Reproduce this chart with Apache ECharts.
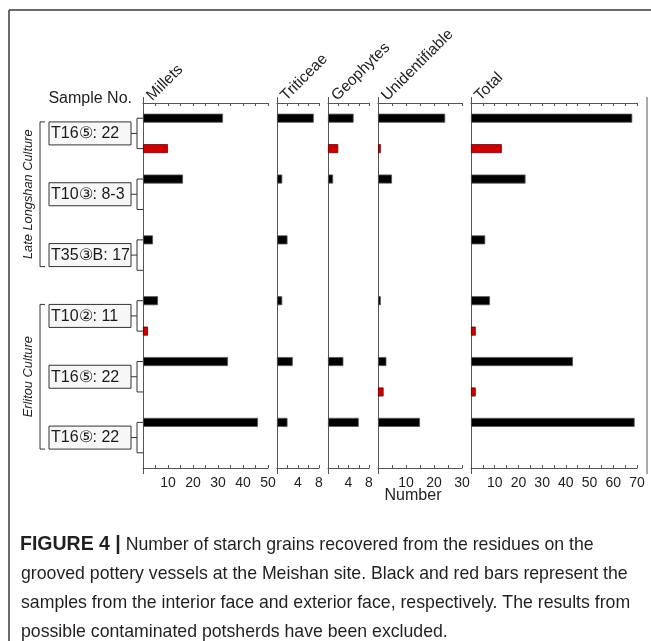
<!DOCTYPE html>
<html><head><meta charset="utf-8">
<script src="https://cdn.jsdelivr.net/npm/echarts@6/dist/echarts.min.js"></script>
<style>html,body{margin:0;padding:0;background:#fff}#main{width:651px;height:641px}</style>
</head><body><div id="main"></div>
<script>
// ---------------- DATA ----------------
const samples = ['T16⑤: 22', 'T10③: 8-3', 'T35③B: 17', 'T10②: 11', 'T16⑤: 22', 'T16⑤: 22'];
const cultureNames = ['Late Longshan Culture', 'Erlitou Culture'];
const cultureFirstSample = [0, 3];
const cultureLastSample = [2, 5];
const panelNames = ['Millets', 'Triticeae', 'Geophytes', 'Unidentifiable', 'Total'];

const milletsInterior = [32, 16, 4, 6, 34, 46];
const milletsExterior = [10, 0, 0, 2, 0, 0];
const triticeaeInterior = [7, 1, 2, 1, 3, 2];
const triticeaeExterior = [0, 0, 0, 0, 0, 0];
const geophytesInterior = [5, 1, 0, 0, 3, 6];
const geophytesExterior = [2, 0, 0, 0, 0, 0];
const unidentifiableInterior = [24, 5, 0, 1, 3, 15];
const unidentifiableExterior = [1, 0, 0, 0, 2, 0];
const totalInterior = [68, 23, 6, 8, 43, 69];
const totalExterior = [13, 0, 0, 2, 2, 0];

const axisMax = [50, 8, 8, 30, 70];
const tickStep = [5, 2, 2, 5, 5];
const labelStep = [10, 4, 4, 10, 10];

const captionBold = 'FIGURE 4 |';
const captionLines = [
  ' Number of starch grains recovered from the residues on the',
  'grooved pottery vessels at the Meishan site. Black and red bars represent the',
  'samples from the interior face and exterior face, respectively. The results from',
  'possible contaminated potsherds have been excluded.'
];

// ---------------- LAYOUT ----------------
const FONT = '"Liberation Sans", Arial, Helvetica, sans-serif';
const panelLeft = [143, 277, 328, 378, 471];
const panelRight = [268, 319, 369, 462, 637];
const gridTop = 103, gridBottom = 468;
const AXIS_COLOR = '#555';

const interiorData = [milletsInterior, triticeaeInterior, geophytesInterior, unidentifiableInterior, totalInterior];
const exteriorData = [milletsExterior, triticeaeExterior, geophytesExterior, unidentifiableExterior, totalExterior];

const rowCats = [];
samples.forEach((s, i) => { rowCats.push(i + '|interior'); rowCats.push(i + '|exterior'); });

const blackStyle = { color: '#000', borderColor: '#555', borderWidth: 0.8 };
const redStyle = { color: '#cc0000', borderColor: '#6a0000', borderWidth: 0.8 };

const grids = [], xAxes = [], yAxes = [], series = [];
panelNames.forEach((name, p) => {
  grids.push({ left: panelLeft[p], width: panelRight[p] - panelLeft[p], top: gridTop, height: gridBottom - gridTop, outerBoundsMode: 'none', containLabel: false });
  const common = {
    type: 'value', gridIndex: p, min: 0, max: axisMax[p], interval: tickStep[p],
    axisLine: { show: true, onZero: false, lineStyle: { color: AXIS_COLOR, width: 1 } },
    axisTick: { show: true, inside: true, length: 3, lineStyle: { color: AXIS_COLOR, width: 1 } },
    splitLine: { show: false }
  };
  xAxes.push(Object.assign({}, common, {
    position: 'bottom',
    axisLabel: { show: true, fontSize: 14, fontFamily: FONT, color: '#222', margin: 8, showMinLabel: true, showMaxLabel: true,
      formatter: v => (v > 0 && Math.abs(v % labelStep[p]) < 1e-9) ? String(v) : '' }
  }));
  xAxes.push(Object.assign({}, common, { position: 'top', axisLabel: { show: false } }));
  yAxes.push({ type: 'category', gridIndex: p, data: rowCats, inverse: true,
    axisLine: { show: false }, axisTick: { show: false }, axisLabel: { show: false }, splitLine: { show: false } });
  const data = rowCats.map(c => {
    const [si, kind] = c.split('|');
    const v = kind === 'interior' ? interiorData[p][+si] : exteriorData[p][+si];
    return v > 0 ? { value: v, itemStyle: kind === 'interior' ? blackStyle : redStyle } : '-';
  });
  series.push({ type: 'bar', name: name, xAxisIndex: p * 2, yAxisIndex: p, data: data, barWidth: 9, animation: false, silent: true });
});

const chart = echarts.init(document.getElementById('main'), null, { renderer: 'canvas' });
chart.setOption({ animation: false, grid: grids, xAxis: xAxes, yAxis: yAxes, series: series });

// ---------------- DECORATION ----------------
const g = [];
const line = (x1, y1, x2, y2, color, w) => g.push({ type: 'line', shape: { x1, y1, x2, y2 }, style: { stroke: color, lineWidth: w }, silent: true });
const text = (t, x, y, opt) => g.push(Object.assign({ type: 'text', x, y, silent: true,
  style: Object.assign({ text: t, fill: '#222', fontFamily: FONT, fontSize: 15, align: 'left', verticalAlign: 'middle' }, opt.style || {}) }, opt.el || {}));

// frame
line(9, 10, 651, 10, '#3a3a3a', 1.5);
line(9, 10, 9, 641, '#3a3a3a', 1.5);

// panel vertical lines
panelLeft.forEach(x => line(x + 0.5, 97, x + 0.5, 474, AXIS_COLOR, 1));
line(647, 97, 647, 474, AXIS_COLOR, 1);

// panel titles (rotated)
panelNames.forEach((n, p) => text(n, panelLeft[p] + 12, 104, { el: { rotation: Math.PI / 4 }, style: { fontSize: 15.5, verticalAlign: 'bottom' } }));
text('Sample No.', 132, 99, { style: { fontSize: 16, align: 'right', verticalAlign: 'middle' } });
text('Number', 413, 496, { style: { fontSize: 16, align: 'center' } });

// sample boxes & brackets
const boxTop = [], boxBottom = [];
samples.forEach((s, i) => {
  const y1 = chart.convertToPixel({ yAxisIndex: 0 }, rowCats[2 * i]);
  const y2 = chart.convertToPixel({ yAxisIndex: 0 }, rowCats[2 * i + 1]);
  const mid = (y1 + y2) / 2;
  boxTop.push(mid - 11.5); boxBottom.push(mid + 11.5);
  g.push({ type: 'rect', shape: { x: 49, y: mid - 11.5, width: 82, height: 23 }, style: { fill: '#f7f7f7', stroke: '#333', lineWidth: 1 }, silent: true });
  text(s, 51, mid + 0.5, { style: { fontSize: 16, fill: '#1a1a1a' } });
  line(131, mid, 137, mid, '#333', 1);
  line(137, y1, 137, y2, '#333', 1);
  line(137, y1, 143, y1, '#333', 1);
  line(137, y2, 143, y2, '#333', 1);
});

// culture brackets
cultureNames.forEach((n, k) => {
  const t = boxTop[cultureFirstSample[k]], b = boxBottom[cultureLastSample[k]];
  line(40, t, 40, b, '#333', 1);
  line(40, t, 45, t, '#333', 1);
  line(40, b, 45, b, '#333', 1);
  text(n, 28, (t + b) / 2, { el: { rotation: Math.PI / 2 }, style: { fontSize: 12.8, fontStyle: 'italic', align: 'center' } });
});

// caption
const capY = [545, 574, 603, 632];
text('{b|' + captionBold + '}' + captionLines[0], 20, capY[0], { style: { fontSize: 17.7, fill: '#231f20', rich: { b: { fontWeight: 'bold', fontSize: 19.5, fontFamily: FONT, fill: '#231f20' } } } });
for (let i = 1; i < captionLines.length; i++) text(captionLines[i], 21, capY[i], { style: { fontSize: 17.7, fill: '#231f20' } });

chart.setOption({ graphic: { elements: g } });
</script>
</body></html>
